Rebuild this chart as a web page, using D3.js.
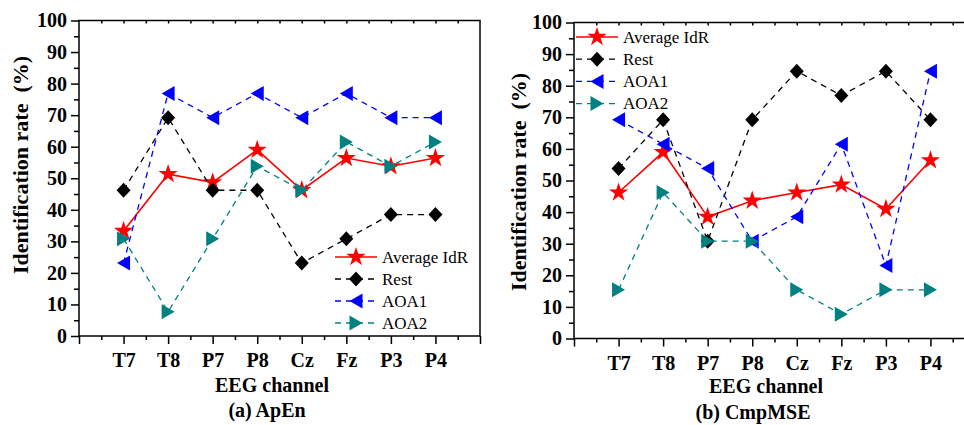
<!DOCTYPE html>
<html>
<head>
<meta charset="utf-8">
<script src="https://cdn.jsdelivr.net/npm/d3@7/dist/d3.min.js"></script>
<style>
  body { margin: 0; background: #fff; }
  svg { display: block; }
  text { font-family: "Liberation Serif", "Times New Roman", serif; }
</style>
</head>
<body>
<script>
// Data (identification rate, %)
var categories = ['T7', 'T8', 'P7', 'P8', 'Cz', 'Fz', 'P3', 'P4'];
var seriesNames = ['Average IdR', 'Rest', 'AOA1', 'AOA2'];
var yTicks = [0, 10, 20, 30, 40, 50, 60, 70, 80, 90, 100];

var apenAvg  = [33.3, 51.3, 48.7, 59.0, 46.2, 56.4, 53.8, 56.4];
var apenRest = [46.2, 69.2, 46.2, 46.2, 23.1, 30.8, 38.5, 38.5];
var apenAoa1 = [23.1, 76.9, 69.2, 76.9, 69.2, 76.9, 69.2, 69.2];
var apenAoa2 = [30.8, 7.7, 30.8, 53.8, 46.2, 61.5, 53.8, 61.5];

var cmpAvg  = [46.2, 59.0, 38.5, 43.6, 46.2, 48.7, 41.0, 56.4];
var cmpRest = [53.8, 69.2, 30.8, 69.2, 84.6, 76.9, 84.6, 69.2];
var cmpAoa1 = [69.2, 61.5, 53.8, 30.8, 38.5, 61.5, 23.1, 84.6];
var cmpAoa2 = [15.4, 46.2, 30.8, 30.8, 15.4, 7.7, 15.4, 15.4];

// Styles per series
var styles = [
  {color: '#ff0000', dash: null,  marker: 'star'},
  {color: '#000000', dash: '6,5', marker: 'diamond'},
  {color: '#0000ff', dash: '6,5', marker: 'left'},
  {color: '#008080', dash: '6,5', marker: 'right'}
];

var width = 964, height = 425;

var svg = d3.select('body').append('svg')
    .attr('width', width)
    .attr('height', height);

// marker paths
function markerPath(type) {
  if (type == 'star') return d3.symbol().type(d3.symbolStar).size(115)();
  if (type == 'diamond') return 'M0,-7.5L7,0L0,7.5L-7,0Z';
  if (type == 'left') return 'M-6.5,0L6.5,-7.5L6.5,7.5Z';
  if (type == 'right') return 'M6.5,0L-6.5,-7.5L-6.5,7.5Z';
}

function drawPanel(p) {
  var x = d3.scaleLinear().domain([0, 9]).range([p.left, p.left + 401]);
  var y = d3.scaleLinear().domain([0, 100]).range([p.bottom, p.top]);
  var g = svg.append('g');

  // frame
  g.append('rect')
    .attr('x', x(0)).attr('y', y(100))
    .attr('width', x(9) - x(0)).attr('height', y(0) - y(100))
    .attr('fill', 'none').attr('stroke', '#000').attr('stroke-width', 1.5);

  // y axis: major + minor ticks
  var yMajor = d3.axisLeft(y).tickValues(yTicks).tickSize(8).tickPadding(4)
      .tickFormat(d3.format('d'));
  g.append('g').attr('transform', 'translate(' + x(0) + ',0)').call(yMajor);
  var yMinor = d3.axisLeft(y).tickValues(d3.range(5, 100, 10)).tickSize(5).tickFormat('');
  g.append('g').attr('transform', 'translate(' + x(0) + ',0)').call(yMinor);

  // x axis
  var xMajor = d3.axisBottom(x).tickValues(d3.range(0, 10)).tickSize(8).tickPadding(9)
      .tickFormat(function(d) { return (d >= 1 && d <= 8) ? categories[d - 1] : ''; });
  g.append('g').attr('transform', 'translate(0,' + y(0) + ')').call(xMajor);
  var xMinor = d3.axisBottom(x).tickValues(d3.range(0.5, 9, 1)).tickSize(4).tickFormat('');
  g.append('g').attr('transform', 'translate(0,' + y(0) + ')').call(xMinor);

  // top inner ticks
  var xTop = d3.axisTop(x).tickValues(d3.range(0.5, 9, 0.5)).tickSize(-3).tickFormat('');
  g.append('g').attr('transform', 'translate(0,' + y(100) + ')').call(xTop);

  g.selectAll('.domain').remove();
  g.selectAll('.tick line').attr('stroke', '#000').attr('stroke-width', 1.5);
  g.selectAll('.tick text')
    .attr('fill', '#000')
    .style('font-size', '20px')
    .style('font-weight', 'bold');

  // axis titles
  g.append('text')
    .attr('transform', 'translate(' + p.yTitleX + ',' + p.yTitleY + ') rotate(-90)')
    .attr('text-anchor', 'middle')
    .style('font-size', '22px').style('font-weight', 'bold')
    .text('Identification rate\u00a0\u00a0(%)');

  g.append('text')
    .attr('x', p.xTitleX).attr('y', p.xTitleY)
    .attr('text-anchor', 'middle')
    .style('font-size', '20px').style('font-weight', 'bold')
    .text('EEG channel');

  g.append('text')
    .attr('x', p.capX).attr('y', p.capY)
    .attr('text-anchor', 'middle')
    .style('font-size', '20px').style('font-weight', 'bold')
    .text(p.caption);

  // series
  var line = d3.line()
    .x(function(d, i) { return x(i + 1); })
    .y(function(d) { return y(d); });

  p.series.forEach(function(vals, si) {
    var st = styles[si];
    g.append('path')
      .datum(vals)
      .attr('d', line)
      .attr('fill', 'none')
      .attr('stroke', st.color)
      .attr('stroke-width', si == 0 ? 1.6 : 1.3)
      .attr('stroke-dasharray', st.dash);
    g.selectAll('.m' + si)
      .data(vals)
      .enter().append('path')
      .attr('class', 'm' + si)
      .attr('transform', function(d, i) { return 'translate(' + x(i + 1) + ',' + y(d) + ')'; })
      .attr('d', markerPath(st.marker))
      .attr('fill', st.color);
  });

  // legend
  var lg = g.append('g');
  seriesNames.forEach(function(name, si) {
    var st = styles[si];
    var ly = p.legY + si * p.legStep;
    lg.append('line')
      .attr('x1', p.legX).attr('x2', p.legX + 42)
      .attr('y1', ly).attr('y2', ly)
      .attr('stroke', st.color)
      .attr('stroke-width', si == 0 ? 1.6 : 1.3)
      .attr('stroke-dasharray', st.dash);
    lg.append('path')
      .attr('transform', 'translate(' + (p.legX + 21) + ',' + ly + ')')
      .attr('d', markerPath(st.marker))
      .attr('fill', st.color);
    lg.append('text')
      .attr('x', p.legX + 47).attr('y', ly)
      .attr('dy', '0.33em')
      .style('font-size', '17px')
      .text(name);
  });
}

drawPanel({
  left: 79, top: 20.5, bottom: 336,
  series: [apenAvg, apenRest, apenAoa1, apenAoa2],
  yTitleX: 28, yTitleY: 165,
  xTitleX: 272, xTitleY: 392,
  capX: 267, capY: 417, caption: '(a) ApEn',
  legX: 335, legY: 257, legStep: 22
});

drawPanel({
  left: 574, top: 22.5, bottom: 338.5,
  series: [cmpAvg, cmpRest, cmpAoa1, cmpAoa2],
  yTitleX: 526, yTitleY: 182,
  xTitleX: 766, xTitleY: 393,
  capX: 753, capY: 419, caption: '(b) CmpMSE',
  legX: 576, legY: 37, legStep: 22.2
});
</script>
</body>
</html>
